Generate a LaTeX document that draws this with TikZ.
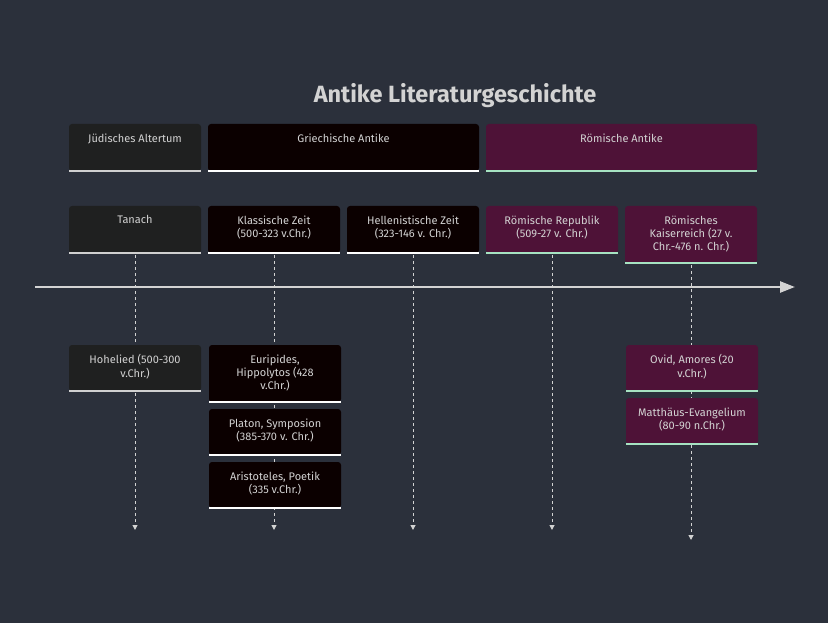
\documentclass[tikz,border=0pt]{standalone}
\usepackage{fontspec}
\setmainfont{Fira Sans}
\usetikzlibrary{positioning}
\usetikzlibrary{arrows.meta}

\definecolor{bgcol}{HTML}{2B303B}
\definecolor{txtcol}{HTML}{D3D3D3}
\definecolor{judfill}{HTML}{1F2020}
\definecolor{judline}{HTML}{D0D0D0}
\definecolor{grkfill}{HTML}{0B0000}
\definecolor{grkline}{HTML}{FFFFFF}
\definecolor{romfill}{HTML}{4E1237}
\definecolor{romline}{HTML}{A6E3C2}

\tikzset{
  epoch/.style={rectangle, rounded corners=3pt, inner sep=0pt, outer sep=0pt, minimum width=132pt, minimum height=47pt, anchor=north west},
  event/.style={epoch, minimum height=46pt},
  tall/.style={minimum height=57pt},
  jud/.style={fill=judfill},
  grk/.style={fill=grkfill},
  rom/.style={fill=romfill},
  boxtext/.style={anchor=north, inner sep=0pt, align=center, text=txtcol, font=\fontsize{11}{13.3}\selectfont},
  headline/.style={anchor=base, inner sep=0pt, text=txtcol, font=\fontsize{23.5}{28}\selectfont\bfseries},
  underline/.style={line width=2.5pt},
  guide/.style={draw=txtcol, line width=1pt, dash pattern=on 3pt off 3pt, -{Triangle[length=5pt,width=5pt]}},
  timeline/.style={draw=txtcol, line width=2.5pt, -{Triangle[length=15pt,width=11pt]}}
}

\begin{document}
\begin{tikzpicture}[x=1pt,y=-1pt]
  \fill[bgcol] (0,0) rectangle (828,623);

  \node[headline] (title) at (455,103) {Antike Literaturgeschichte};

  % Abschnitte
  \node[epoch, jud] (judaism) at (69,124) {};
  \node[epoch, grk, minimum width=271pt, right=7pt of judaism.north east, anchor=north west] (greece) {};
  \node[epoch, rom, minimum width=271pt, right=7pt of greece.north east, anchor=north west] (rome) {};

  % Perioden
  \node[epoch, jud] (tanach) at (69,206) {};
  \node[epoch, grk, right=7pt of tanach.north east, anchor=north west] (classic) {};
  \node[epoch, grk, right=7pt of classic.north east, anchor=north west] (hellen) {};
  \node[epoch, rom, right=7pt of hellen.north east, anchor=north west] (republic) {};
  \node[epoch, rom, tall, right=7pt of republic.north east, anchor=north west] (empire) {};

  \foreach \p/\e in {tanach/530, classic/530, hellen/530, republic/530, empire/540} {
    \coordinate (\p-end) at (\p.south |- 0,\e);
    \draw[guide] ([yshift=-2pt]\p.south) -- (\p-end);
  }

  \coordinate (axis-start) at (35,287);
  \coordinate (axis-end) at (795,287);
  \draw[timeline] (axis-start) -- (axis-end);

  % Werke
  \node[event, jud] (song) at (69,345) {};
  \node[event, grk, tall] (euripides) at (209,345) {};
  \node[event, grk, below=7pt of euripides.south west, anchor=north west] (platon) {};
  \node[event, grk, below=7pt of platon.south west, anchor=north west] (poetics) {};
  \node[event, rom] (ovid) at (626,345) {};
  \node[event, rom, below=7pt of ovid.south west, anchor=north west] (matthew) {};

  \foreach \n/\c in {judaism/judline, greece/grkline, rome/romline,
                     tanach/judline, classic/grkline, hellen/grkline, republic/romline, empire/romline,
                     song/judline, euripides/grkline, platon/grkline, poetics/grkline, ovid/romline, matthew/romline}
    \draw[underline, \c] (\n.south west) -- (\n.south east);

  \node[boxtext] (judaism-t) at ([yshift=-9.5pt]judaism.north) {Jüdisches Altertum};
  \node[boxtext] (greece-t) at ([yshift=-9.5pt]greece.north) {Griechische Antike};
  \node[boxtext] (rome-t) at ([yshift=-9.5pt]rome.north) {Römische Antike};

  \node[boxtext] (tanach-t) at ([yshift=-9.5pt]tanach.north) {Tanach};
  \node[boxtext] (classic-t) at ([yshift=-9.5pt]classic.north) {Klassische Zeit\\(500-323 v.Chr.)};
  \node[boxtext] (hellen-t) at ([yshift=-9.5pt]hellen.north) {Hellenistische Zeit\\(323-146 v. Chr.)};
  \node[boxtext] (republic-t) at ([yshift=-9.5pt]republic.north) {Römische Republik\\(509-27 v. Chr.)};
  \node[boxtext] (empire-t) at ([yshift=-9.5pt]empire.north) {Römisches\\Kaiserreich (27 v.\\Chr.-476 n. Chr.)};

  \node[boxtext] (song-t) at ([yshift=-9.5pt]song.north) {Hohelied (500-300\\v.Chr.)};
  \node[boxtext] (euripides-t) at ([yshift=-9.5pt]euripides.north) {Euripides,\\Hippolytos (428\\v.Chr.)};
  \node[boxtext] (platon-t) at ([yshift=-9.5pt]platon.north) {Platon, Symposion\\(385-370 v. Chr.)};
  \node[boxtext] (poetics-t) at ([yshift=-9.5pt]poetics.north) {Aristoteles, Poetik\\(335 v.Chr.)};
  \node[boxtext] (ovid-t) at ([yshift=-9.5pt]ovid.north) {Ovid, Amores (20\\v.Chr.)};
  \node[boxtext] (matthew-t) at ([yshift=-9.5pt]matthew.north) {Matthäus-Evangelium\\(80-90 n.Chr.)};
\end{tikzpicture}
\end{document}
